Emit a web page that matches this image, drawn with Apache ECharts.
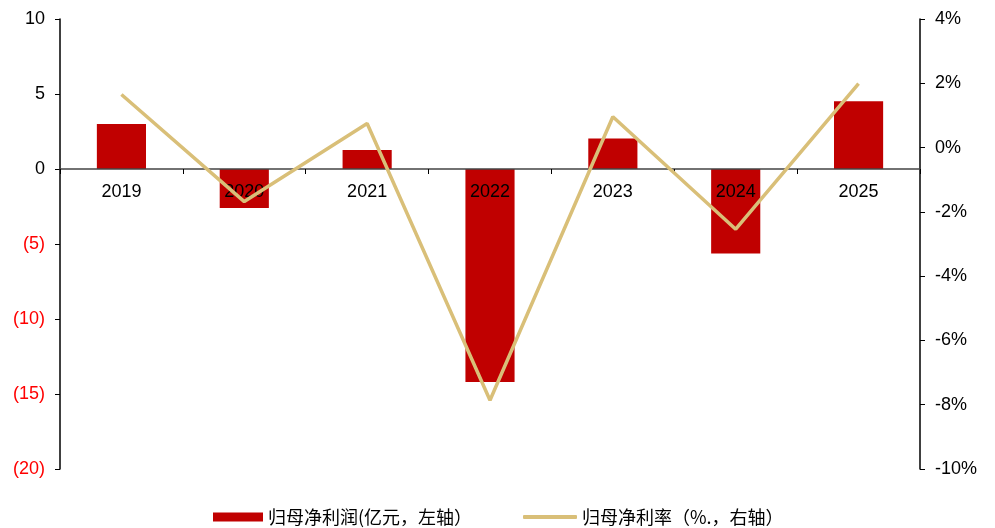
<!DOCTYPE html>
<html>
<head>
<meta charset="utf-8">
<script src="https://cdn.jsdelivr.net/npm/echarts@6/dist/echarts.min.js"></script>
<style>
  html, body { margin: 0; padding: 0; background: #fff; }
  #chart { width: 995px; height: 528px; }
</style>
</head>
<body>
<div id="chart"></div>
<script>
// Years on the category axis
const years = ['2019', '2020', '2021', '2022', '2023', '2024', '2025'];
// 归母净利润, 亿元 (left axis)
const netProfit = [3.0, -2.6, 1.26, -14.2, 2.04, -5.63, 4.52];
// 归母净利率, % (right axis)
const netMargin = [1.65, -1.68, 0.75, -7.86, 0.96, -2.54, 1.99];
// Series names shown in the legend
const profitName = '归母净利润(亿元，左轴）';
const marginName = '归母净利率（%.，右轴）';

// Left axis range; the category axis sits on its zero line
const leftMin = -20, leftMax = 10, leftStep = 5;
const rightMin = -10, rightMax = 4, rightStep = 2;

const latin = '"Liberation Sans", Arial, sans-serif';
const cjk = '"Noto Sans CJK SC", "Liberation Sans", sans-serif';

const gridTop = 19, gridBottom = 59, chartH = 528;
const plotH = chartH - gridTop - gridBottom;
// shift the category axis (line, ticks and labels) up to the zero of the left axis
const zeroShift = -plotH * (0 - leftMin) / (leftMax - leftMin);

const chart = echarts.init(document.getElementById('chart'), null, { renderer: 'canvas' });

chart.setOption({
  animation: false,
  backgroundColor: '#ffffff',
  grid: { left: 60, right: 75, top: gridTop, bottom: gridBottom, containLabel: false },
  legend: [
    {
      data: [profitName],
      left: 213, top: 508, padding: 0,
      itemWidth: 50, itemHeight: 9, itemGap: 5,
      icon: 'rect',
      textStyle: { fontFamily: cjk, fontSize: 18, color: '#000' }
    },
    {
      data: [marginName],
      left: 523, top: 508, padding: 0,
      itemWidth: 54, itemHeight: 4, itemGap: 5,
      icon: 'roundRect',
      textStyle: { fontFamily: cjk, fontSize: 18, color: '#000' }
    }
  ],
  xAxis: {
    type: 'category',
    data: years,
    z: 3,
    offset: zeroShift,
    axisLine: { onZero: false, lineStyle: { color: '#444', width: 1.5 } },
    axisTick: { show: true, inside: false, length: 5, lineStyle: { color: '#000' } },
    axisLabel: { margin: 14, fontFamily: latin, fontSize: 18, color: '#000' },
    splitLine: { show: false }
  },
  yAxis: [
    {
      type: 'value',
      min: leftMin, max: leftMax, interval: leftStep,
      axisLine: { show: true, lineStyle: { color: '#000', width: 1.5 } },
      axisTick: { show: true, inside: false, length: 5, lineStyle: { color: '#000' } },
      splitLine: { show: false },
      axisLabel: {
        margin: 15,
        fontFamily: latin, fontSize: 18, color: '#000',
        formatter: v => v < 0 ? '{neg|(' + (-v) + ')}' : String(v),
        rich: { neg: { color: '#ff0000', fontFamily: latin, fontSize: 18 } }
      }
    },
    {
      type: 'value',
      min: rightMin, max: rightMax, interval: rightStep,
      position: 'right',
      axisLine: { show: true, lineStyle: { color: '#000', width: 1.5 } },
      axisTick: { show: true, inside: false, length: 5, lineStyle: { color: '#000' } },
      splitLine: { show: false },
      axisLabel: {
        margin: 15,
        fontFamily: latin, fontSize: 18, color: '#000',
        formatter: v => v + '%'
      }
    }
  ],
  series: [
    {
      name: profitName,
      type: 'bar',
      yAxisIndex: 0,
      data: netProfit,
      barWidth: '40%',
      itemStyle: { color: '#c00000' },
      z: 2
    },
    {
      name: marginName,
      type: 'line',
      yAxisIndex: 1,
      data: netMargin,
      symbol: 'none',
      lineStyle: { color: '#d9bf78', width: 3.5 },
      itemStyle: { color: '#d9bf78' },
      z: 5
    }
  ]
});
</script>
</body>
</html>
